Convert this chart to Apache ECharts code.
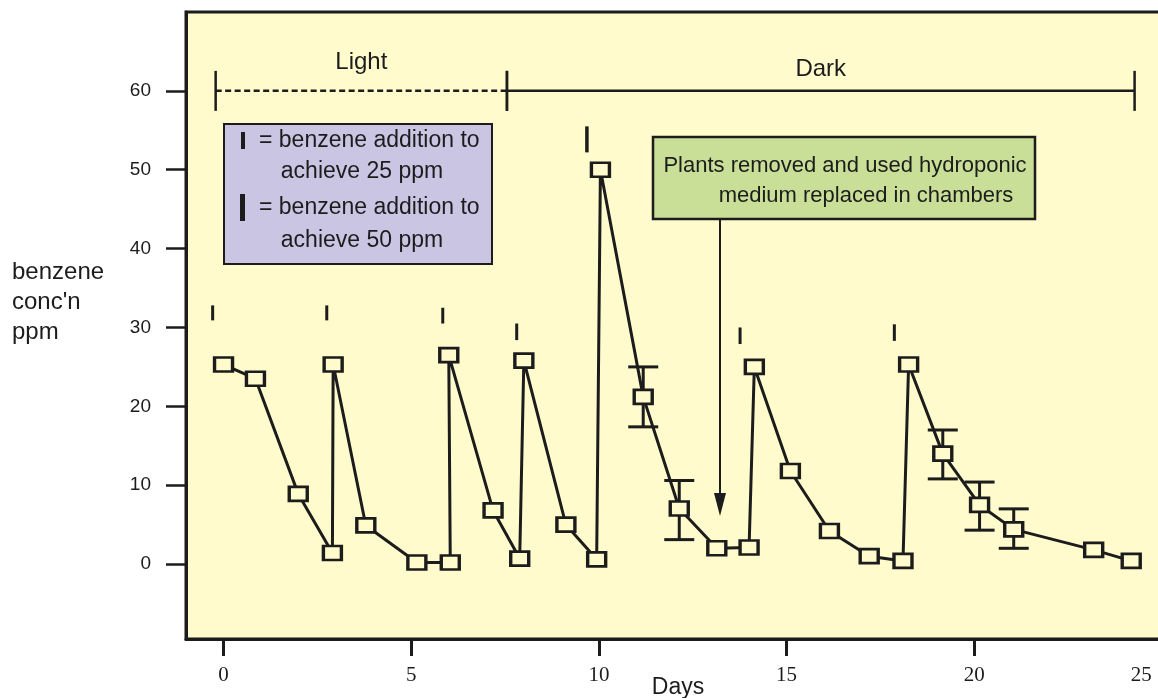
<!DOCTYPE html>
<html>
<head>
<meta charset="utf-8">
<script src="https://cdn.jsdelivr.net/npm/echarts@6/dist/echarts.min.js"></script>
<style>
  html, body { margin: 0; padding: 0; background: #ffffff; }
  #chart { width: 1158px; height: 698px; }
</style>
</head>
<body>
<div id="chart"></div>
<script>
// ---- data ----
const days = [0, 0.85, 1.99, 2.9, 2.92, 3.79, 5.15, 6.04, 6.0, 7.18, 7.89, 8.0, 9.12, 9.94, 10.04,
  11.18, 12.14, 13.14, 14.0, 14.14, 15.1, 16.14, 17.2, 18.1, 18.25, 19.16, 20.14, 21.05, 23.18, 24.18];
const conc = [25.3, 23.5, 8.9, 1.4, 25.3, 4.9, 0.2, 0.2, 26.5, 6.8, 0.7, 25.8, 5.0, 0.6, 50.0,
  21.2, 7.05, 2.0, 2.1, 25.0, 11.8, 4.2, 1.0, 0.4, 25.3, 14.0, 7.5, 4.4, 1.8, 0.4];

const errDays = [11.18, 12.14, 19.16, 20.14, 21.05];
const errLow  = [17.4, 3.1, 10.8, 4.3, 2.0];
const errHigh = [25.0, 10.6, 17.0, 10.4, 7.0];

// benzene additions (vertical tick marks)
const add25Days   = [-0.29, 2.75, 5.84, 7.81, 13.76, 17.87];
const add25Bottom = [30.9, 30.9, 30.5, 28.4, 27.9, 28.3];
const add25Top    = [32.8, 32.8, 32.5, 30.5, 30.0, 30.4];
const add50Days   = [9.68];
const add50Bottom = [52.2];
const add50Top    = [55.5];

// light / dark periods
const periodNames = ['Light', 'Dark'];
const periodStart = [-0.21, 7.55];
const periodEnd   = [7.55, 24.27];
const periodLevel = 60;

const xTickValues = [0, 5, 10, 15, 20, 25];
const yTickValues = [0, 10, 20, 30, 40, 50, 60];

// ---- chart ----
const INK = '#1c1c1c';
const BG = '#fffbcc';
const SANS = '"Liberation Sans", Arial, Helvetica, sans-serif';
const SERIF = '"Liberation Serif", "Times New Roman", serif';

const chart = echarts.init(document.getElementById('chart'), null, { renderer: 'canvas' });

const lineData = days.map((d, i) => [d, conc[i]]);
const errData = errDays.map((d, i) => [d, errLow[i], errHigh[i]]);
const addData = add25Days.map((d, i) => [d, add25Bottom[i], add25Top[i], 0])
  .concat(add50Days.map((d, i) => [d, add50Bottom[i], add50Top[i], 1]));
const periodData = periodNames.map((n, i) => ({ name: n, value: [periodStart[i], periodEnd[i], periodLevel] }));
const xLabelPos = xTickValues.map(v => Math.min(v, 24.45));

const option = {
  animation: false,
  backgroundColor: '#ffffff',
  grid: {
    left: 186, top: 12, width: 976, bottom: 59,
    outerBoundsMode: 'none', containLabel: false,
    show: true, backgroundColor: BG, borderColor: INK, borderWidth: 3
  },
  xAxis: {
    type: 'value', min: -1, max: 25,
    splitLine: { show: false },
    axisLine: { show: true, onZero: false, lineStyle: { color: INK, width: 3 } },
    axisTick: { show: true, customValues: xTickValues.slice(0, 5), length: 17, lineStyle: { color: INK, width: 3 } },
    axisLabel: {
      customValues: xLabelPos,
      formatter: function (v) {
        let best = 0;
        xLabelPos.forEach((p, i) => { if (Math.abs(p - v) < Math.abs(xLabelPos[best] - v)) best = i; });
        return String(xTickValues[best]);
      },
      margin: 26, fontFamily: SERIF, fontSize: 21, color: INK
    },
    name: 'Days', nameLocation: 'middle', nameGap: 49, nameMoveOverlap: false,
    nameTextStyle: { fontFamily: SANS, fontSize: 23, color: INK, verticalAlign: 'middle', padding: [0, 0, 0, 8] }
  },
  yAxis: {
    type: 'value', min: -9.5, max: 70,
    splitLine: { show: false },
    axisLine: { show: true, onZero: false, lineStyle: { color: INK, width: 3 } },
    axisTick: { show: true, customValues: yTickValues, length: 20, lineStyle: { color: INK, width: 2.5 } },
    axisLabel: { customValues: yTickValues, margin: 35, fontFamily: SANS, fontSize: 19, color: INK }
  },
  series: [
    {
      type: 'custom', name: 'periods', z: 3,
      data: periodData,
      renderItem: function (params, api) {
        const s = api.coord([api.value(0), api.value(2)]);
        const e = api.coord([api.value(1), api.value(2)]);
        const dashed = params.dataIndex === 0;
        const name = periodNames[params.dataIndex];
        return {
          type: 'group',
          children: [
            { type: 'line', shape: { x1: s[0], y1: s[1], x2: e[0], y2: e[1] },
              style: { stroke: INK, lineWidth: 2.5, lineDash: dashed ? [6, 3.5] : null } },
            { type: 'line', shape: { x1: s[0], y1: s[1] - 20, x2: s[0], y2: s[1] + 20 },
              style: { stroke: INK, lineWidth: 2.5 } },
            { type: 'line', shape: { x1: e[0], y1: e[1] - 20, x2: e[0], y2: e[1] + 20 },
              style: { stroke: INK, lineWidth: 2.5 } },
            { type: 'text', x: (s[0] + e[0]) / 2, y: s[1] - (dashed ? 28 : 21),
              style: { text: name, fill: INK, font: '24px ' + SANS, align: 'center', verticalAlign: 'middle' } }
          ]
        };
      }
    },
    {
      type: 'custom', name: 'additions', z: 3,
      data: addData,
      renderItem: function (params, api) {
        const b = api.coord([api.value(0), api.value(1)]);
        const t = api.coord([api.value(0), api.value(2)]);
        return { type: 'line', shape: { x1: b[0], y1: b[1], x2: t[0], y2: t[1] },
          style: { stroke: INK, lineWidth: api.value(3) ? 3.5 : 3 } };
      }
    },
    {
      type: 'custom', name: 'errors', z: 4,
      data: errData,
      renderItem: function (params, api) {
        const lo = api.coord([api.value(0), api.value(1)]);
        const hi = api.coord([api.value(0), api.value(2)]);
        const w = 15;
        return {
          type: 'group',
          children: [
            { type: 'line', shape: { x1: lo[0], y1: lo[1], x2: hi[0], y2: hi[1] }, style: { stroke: INK, lineWidth: 3 } },
            { type: 'line', shape: { x1: lo[0] - w, y1: lo[1], x2: lo[0] + w, y2: lo[1] }, style: { stroke: INK, lineWidth: 3 } },
            { type: 'line', shape: { x1: hi[0] - w, y1: hi[1], x2: hi[0] + w, y2: hi[1] }, style: { stroke: INK, lineWidth: 3 } }
          ]
        };
      }
    },
    {
      type: 'line', name: 'benzene', z: 5,
      data: lineData,
      showAllSymbol: true,
      symbol: 'rect', symbolSize: [18, 14],
      itemStyle: { color: BG, borderColor: INK, borderWidth: 3 },
      lineStyle: { color: INK, width: 3 }
    }
  ],
  graphic: [
    // y-axis title
    { type: 'text', left: 12, top: 257, z: 10,
      style: { text: "benzene\nconc'n\nppm", font: '24px ' + SANS, fill: INK, lineHeight: 30 } },
    // legend box (purple)
    { type: 'rect', shape: { x: 224, y: 124, width: 268, height: 140 }, z: 10,
      style: { fill: '#cbc5e4', stroke: INK, lineWidth: 2 } },
    { type: 'rect', shape: { x: 241, y: 132, width: 4, height: 17 }, z: 11, style: { fill: INK } },
    { type: 'rect', shape: { x: 240, y: 194, width: 5, height: 27 }, z: 11, style: { fill: INK } },
    { type: 'text', x: 259, y: 141, z: 11,
      style: { text: '= benzene addition to', font: '23px ' + SANS, fill: INK, verticalAlign: 'middle' } },
    { type: 'text', x: 362, y: 172, z: 11,
      style: { text: 'achieve 25 ppm', font: '23px ' + SANS, fill: INK, align: 'center', verticalAlign: 'middle' } },
    { type: 'text', x: 259, y: 208, z: 11,
      style: { text: '= benzene addition to', font: '23px ' + SANS, fill: INK, verticalAlign: 'middle' } },
    { type: 'text', x: 362, y: 241, z: 11,
      style: { text: 'achieve 50 ppm', font: '23px ' + SANS, fill: INK, align: 'center', verticalAlign: 'middle' } },
    // annotation box (green)
    { type: 'rect', shape: { x: 653, y: 137, width: 382, height: 82 }, z: 10,
      style: { fill: '#c9df98', stroke: INK, lineWidth: 2.5 } },
    { type: 'text', x: 845, y: 166, z: 11,
      style: { text: 'Plants removed and used hydroponic', font: '22px ' + SANS, fill: INK, align: 'center', verticalAlign: 'middle' } },
    { type: 'text', x: 866, y: 196, z: 11,
      style: { text: 'medium replaced in chambers', font: '22px ' + SANS, fill: INK, align: 'center', verticalAlign: 'middle' } },
    // arrow
    { type: 'line', shape: { x1: 720, y1: 219, x2: 720, y2: 500 }, z: 10, style: { stroke: INK, lineWidth: 2 } },
    { type: 'polygon', shape: { points: [[714, 493], [726, 493], [720, 516]] }, z: 10, style: { fill: INK } }
  ]
};

chart.setOption(option);
</script>
</body>
</html>
